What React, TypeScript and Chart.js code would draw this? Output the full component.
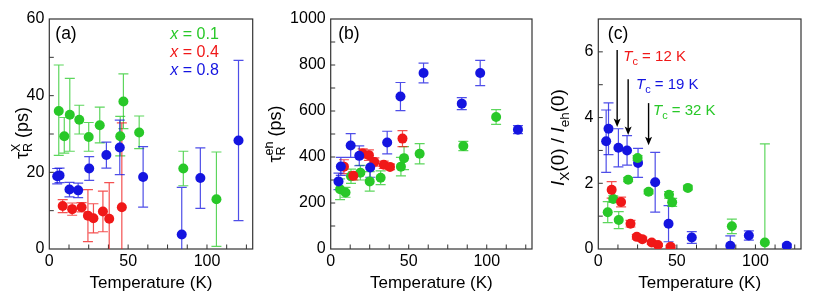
import React, { useEffect, useRef } from 'react';
import { Chart, registerables } from 'chart.js';
Chart.register(...registerables);

const FONT = '"Liberation Sans", Arial, Helvetica, sans-serif';
const GREEN = '#28c828';
const RED = '#f01818';
const BLUE = '#1414e0';
const FRAME = '#333333';

// Temperatures (K) for each sample
const tempGreen = [6, 9.5, 13, 19, 25, 32, 45, 47, 57, 85, 106];
const tempRed = [8.5, 14.5, 20.5, 24.5, 28, 34, 38, 46];
const tempBlue = [5, 6.5, 12.8, 18.3, 25.3, 36.2, 44.7, 59.5, 84, 95.8, 120];

// (a) tau_R^X (ps)
const tauXGreen = [36, 29.4, 35, 33.7, 29.2, 32.3, 29.4, 38.5, 30.4, 21, 13];
const tauXGreenLo = [24.4, 25, 25.5, 30, 25.5, 27.7, 24.3, 31.4, 26.2, 16.5, 0.7];
const tauXGreenHi = [48, 34.3, 44.5, 37.5, 33, 37, 34.6, 45.7, 34.7, 25.5, 25.3];
const tauXRed = [11.2, 10.4, 10.9, 8.7, 8.0, 9.8, 7.9, 10.9];
const tauXRedLo = [9.5, 8.8, 9.7, 1.9, 4.2, 4.5, -1.5, -11];
const tauXRedHi = [12.9, 12.0, 12.1, 15.5, 11.8, 15.1, 17.3, 32.9];
const tauXBlue = [19, 19.2, 15.5, 15.3, 21, 24.5, 26.5, 18.8, 3.8, 18.5, 28.3];
const tauXBlueLo = [17, 17.3, 13.6, 13.4, 17.9, 21.1, 19.4, 10.9, -8.4, 10.6, 7.4];
const tauXBlueHi = [21, 21.1, 17.4, 17.2, 24.1, 27.9, 33.6, 26.7, 16.1, 26.4, 49.2];

// (b) tau_R^eh (ps)
const tauEhGreen = [260, 246, 316, 332, 294, 310, 358, 395, 414, 448, 574];
const tauEhGreenLo = [215, 225, 285, 300, 252, 280, 318, 345, 370, 428, 542];
const tauEhGreenHi = [305, 268, 347, 364, 336, 340, 398, 445, 458, 468, 606];
const tauEhRed = [358, 318, 415, 408, 378, 366, 357, 480];
const tauEhRedLo = [328, 300, 395, 385, 360, 350, 345, 445];
const tauEhRedHi = [388, 336, 435, 431, 396, 382, 369, 515];
const tauEhBlue = [294, 359, 450, 405, 354, 463, 663, 765, 632, 765, 519];
const tauEhBlueLo = [258, 320, 398, 362, 312, 414, 602, 722, 606, 710, 502];
const tauEhBlueHi = [330, 398, 502, 448, 396, 512, 724, 808, 658, 820, 536];

// (c) I_X(0) / I_eh(0)
const ratioGreen = [1.12, 1.52, 0.88, 2.11, 2.77, 1.74, 1.65, 1.42, 1.86, 0.69, 0.2];
const ratioGreenLo = [0.8, 1.42, 0.62, 2.05, 2.7, 1.68, 1.55, 1.3, 1.8, 0.47, -2.8];
const ratioGreenHi = [1.44, 1.62, 1.14, 2.17, 2.84, 1.8, 1.75, 1.54, 1.92, 0.91, 3.2];
const ratioRed = [1.8, 1.43, 0.77, 0.37, 0.3, 0.2, 0.12, 0.07];
const ratioRedLo = [1.55, 1.28, 0.67, 0.3, 0.24, 0.15, 0.08, 0.03];
const ratioRedHi = [2.05, 1.58, 0.87, 0.44, 0.36, 0.25, 0.16, 0.11];
const ratioBlue = [3.28, 3.66, 3.08, 3.0, 2.62, 2.03, 0.77, 0.35, 0.1, 0.41, 0.1];
const ratioBlueLo = [2.33, 2.87, 2.5, 2.55, 2.18, 1.12, 0.22, 0.17, -0.2, 0.27, 0.05];
const ratioBlueHi = [4.23, 4.45, 3.66, 3.45, 3.06, 2.94, 1.32, 0.53, 0.4, 0.55, 0.15];

// Axis ticks
const xLabelTicks = [0, 50, 100];
const xMinorTicks = [12.5, 25, 37.5, 62.5, 75, 87.5, 112.5, 125];
const yTicksA = [0, 20, 40, 60];
const yMinorA = [10, 30, 50];
const yTicksB = [0, 200, 400, 600, 800, 1000];
const yMinorB = [100, 300, 500, 700, 900];
const yTicksC = [0, 2, 4, 6];
const yMinorC = [1, 3, 5];

// Critical temperatures (panel c)
const tcValues = [12, 19, 32];
const tcLabels = ['12 K', '19 K', '32 K'];
const tcArrowFrom = [6.06, 5.17, 4.44];
const tcArrowTo = [3.71, 3.47, 3.16];
const tcLabelX = [15.9, 24, 34.8];
const tcLabelY = [5.9, 5.04, 4.23];

const legendItems = ['0.1', '0.4', '0.8'];

type Seg = { t: string; size?: number; italic?: boolean; dy?: number; stack?: boolean };

function segFont(s: Seg, base: number) {
  return `${s.italic ? 'italic ' : ''}${s.size ?? base}px ${FONT}`;
}

function drawRich(
  ctx: CanvasRenderingContext2D,
  segs: Seg[],
  x: number,
  y: number,
  color: string,
  center: boolean,
  base = 16
) {
  const w = segs.map((s) => {
    ctx.font = segFont(s, base);
    return ctx.measureText(s.t).width;
  });
  let total = 0;
  for (let i = 0; i < segs.length; i++) {
    if (segs[i].stack && i + 1 < segs.length) {
      total += Math.max(w[i], w[i + 1]);
      i++;
    } else total += w[i];
  }
  let cx = center ? x - total / 2 : x;
  ctx.fillStyle = color;
  ctx.textBaseline = 'alphabetic';
  ctx.textAlign = 'left';
  for (let i = 0; i < segs.length; i++) {
    const s = segs[i];
    ctx.font = segFont(s, base);
    ctx.fillText(s.t, cx, y + (s.dy ?? 0));
    if (s.stack && i + 1 < segs.length) {
      const n = segs[i + 1];
      ctx.font = segFont(n, base);
      ctx.fillText(n.t, cx, y + (n.dy ?? 0));
      cx += Math.max(w[i], w[i + 1]);
      i++;
    } else cx += w[i];
  }
}

type PanelSpec = {
  key: string;
  left: number;
  width: number;
  yWidth: number;
  padRight: number;
  yMax: number;
  yTicks: number[];
  yMinor: number[];
  title: Seg[];
  titleSize: number;
  titleOffset: number;
  titleDy: number;
  tag: string;
  tagOffset: number;
  datasets: any[];
  legend?: boolean;
  tc?: boolean;
};

function ds(xs: number[], ys: number[], lo: number[], hi: number[], color: string) {
  return {
    data: xs.map((x, i) => ({ x, y: ys[i] })),
    backgroundColor: color,
    borderColor: color,
    pointRadius: 5,
    pointHoverRadius: 5,
    pointBorderWidth: 0,
    showLine: false,
    errLo: lo,
    errHi: hi,
    errColor: color + 'c0',
  };
}

function makeDecor(spec: PanelSpec) {
  return {
    id: 'decor_' + spec.key,
    beforeDatasetsDraw(chart: any) {
      const { ctx, chartArea: a, scales } = chart;
      const xs = scales.x;
      const ys = scales.y;
      // frame
      ctx.save();
      ctx.strokeStyle = FRAME;
      ctx.lineWidth = 1.2;
      ctx.strokeRect(a.left, a.top, a.right - a.left, a.bottom - a.top);
      ctx.lineWidth = 1;
      ctx.beginPath();
      for (const v of [...xLabelTicks, ...xMinorTicks]) {
        const px = xs.getPixelForValue(v);
        if (px <= a.left + 1) continue;
        ctx.moveTo(px, a.bottom);
        ctx.lineTo(px, a.bottom - 4.5);
      }
      for (const v of [...spec.yTicks, ...spec.yMinor]) {
        const py = ys.getPixelForValue(v);
        if (py >= a.bottom - 1 || py <= a.top + 1) continue;
        ctx.moveTo(a.left, py);
        ctx.lineTo(a.left + 4.5, py);
      }
      ctx.stroke();
      ctx.restore();
      // error bars
      ctx.save();
      ctx.beginPath();
      ctx.rect(a.left, a.top, a.right - a.left, a.bottom - a.top);
      ctx.clip();
      const list = [...chart.data.datasets].reverse();
      list.forEach((d: any) => {
        ctx.strokeStyle = d.errColor;
        ctx.lineWidth = 1.2;
        d.data.forEach((p: any, i: number) => {
          const px = xs.getPixelForValue(p.x);
          const lo = ys.getPixelForValue(d.errLo[i]);
          const hi = ys.getPixelForValue(d.errHi[i]);
          ctx.beginPath();
          ctx.moveTo(px, lo);
          ctx.lineTo(px, hi);
          ctx.moveTo(px - 5, lo);
          ctx.lineTo(px + 5, lo);
          ctx.moveTo(px - 5, hi);
          ctx.lineTo(px + 5, hi);
          ctx.stroke();
        });
      });
      ctx.restore();
    },
    afterDatasetsDraw(chart: any) {
      const { ctx, chartArea: a, scales } = chart;
      const xs = scales.x;
      const ys = scales.y;
      ctx.save();
      // y title
      ctx.save();
      ctx.translate(a.left - spec.titleOffset, (a.top + a.bottom) / 2 + spec.titleDy);
      ctx.rotate(-Math.PI / 2);
      drawRich(ctx, spec.title, 0, 0, '#000', true, spec.titleSize);
      ctx.restore();
      // panel tag
      drawRich(ctx, [{ t: spec.tag }], a.left + spec.tagOffset, a.top + 20, '#000', false, 17.5);
      if (spec.legend) {
        const cols = [GREEN, RED, BLUE];
        legendItems.forEach((v, i) => {
          drawRich(
            ctx,
            [{ t: 'x', italic: true }, { t: ' = ' + v }],
            a.left + 121,
            a.top + 19.5 + i * 18,
            cols[i],
            false,
            16
          );
        });
      }
      if (spec.tc) {
        const cols = [RED, BLUE, GREEN];
        tcValues.forEach((tc, i) => {
          const px = xs.getPixelForValue(tc);
          const y1 = ys.getPixelForValue(tcArrowFrom[i]);
          const y2 = ys.getPixelForValue(tcArrowTo[i]);
          ctx.strokeStyle = '#000';
          ctx.fillStyle = '#000';
          ctx.lineWidth = 1.4;
          ctx.beginPath();
          ctx.moveTo(px, y1);
          ctx.lineTo(px, y2 - 6);
          ctx.stroke();
          ctx.beginPath();
          ctx.moveTo(px, y2);
          ctx.lineTo(px - 3.5, y2 - 8.5);
          ctx.lineTo(px, y2 - 6.5);
          ctx.lineTo(px + 3.5, y2 - 8.5);
          ctx.closePath();
          ctx.fill();
          const lx = xs.getPixelForValue(tcLabelX[i]);
          const ly = ys.getPixelForValue(tcLabelY[i]) + 5.4;
          drawRich(
            ctx,
            [{ t: 'T', italic: true }, { t: 'c', size: 11, dy: 4 }, { t: ' = ' + tcLabels[i] }],
            lx,
            ly,
            cols[i],
            false,
            15
          );
        });
      }
      ctx.restore();
    },
  };
}

const panels: PanelSpec[] = [
  {
    key: 'a',
    left: 0,
    width: 265,
    yWidth: 49.3,
    padRight: 12.3,
    yMax: 60,
    yTicks: yTicksA,
    yMinor: yMinorA,
    title: [{ t: 'τ' }, { t: 'R', size: 12.5, dy: 4.5, stack: true }, { t: 'X', size: 12.5, dy: -8 }, { t: ' (ps)' }],
    titleSize: 18,
    titleOffset: 21.6,
    titleDy: -1,
    tag: '(a)',
    tagOffset: 6,
    legend: true,
    datasets: [
      ds(tempBlue, tauXBlue, tauXBlueLo, tauXBlueHi, BLUE),
      ds(tempRed, tauXRed, tauXRedLo, tauXRedHi, RED),
      ds(tempGreen, tauXGreen, tauXGreenLo, tauXGreenHi, GREEN),
    ],
  },
  {
    key: 'b',
    left: 265,
    width: 280,
    yWidth: 65.7,
    padRight: 13,
    yMax: 1000,
    yTicks: yTicksB,
    yMinor: yMinorB,
    title: [{ t: 'τ' }, { t: 'R', size: 12.5, dy: 4.5, stack: true }, { t: 'eh', size: 12.5, dy: -8 }, { t: ' (ps)' }],
    titleSize: 18,
    titleOffset: 50,
    titleDy: 0,
    tag: '(b)',
    tagOffset: 7.5,
    datasets: [
      ds(tempBlue, tauEhBlue, tauEhBlueLo, tauEhBlueHi, BLUE),
      ds(tempRed, tauEhRed, tauEhRedLo, tauEhRedHi, RED),
      ds(tempGreen, tauEhGreen, tauEhGreenLo, tauEhGreenHi, GREEN),
    ],
  },
  {
    key: 'c',
    left: 545,
    width: 269,
    yWidth: 53.3,
    padRight: 13,
    yMax: 7,
    yTicks: yTicksC,
    yMinor: yMinorC,
    title: [
      { t: 'I', italic: true },
      { t: 'X', size: 13.5, dy: 4.5 },
      { t: '(0) / ' },
      { t: 'I', italic: true },
      { t: 'eh', size: 13.5, dy: 4.5 },
      { t: '(0)' },
    ],
    titleSize: 19,
    titleOffset: 34,
    titleDy: 3.5,
    tag: '(c)',
    tagOffset: 9.5,
    tc: true,
    datasets: [
      ds(tempRed, ratioRed, ratioRedLo, ratioRedHi, RED),
      ds(tempGreen, ratioGreen, ratioGreenLo, ratioGreenHi, GREEN),
      ds(tempBlue, ratioBlue, ratioBlueLo, ratioBlueHi, BLUE),
    ],
  },
];

function Panel({ spec }: { spec: PanelSpec }) {
  const ref = useRef<HTMLCanvasElement>(null);
  useEffect(() => {
    const canvas = ref.current;
    if (!canvas) return;
    const chart = new Chart(canvas, {
      type: 'scatter',
      data: { datasets: spec.datasets },
      options: {
        animation: false,
        responsive: false,
        maintainAspectRatio: false,
        devicePixelRatio: 1,
        events: [],
        layout: { padding: { left: 0, right: spec.padRight, top: 19, bottom: 0 } },
        plugins: { legend: { display: false }, tooltip: { enabled: false }, title: { display: false } },
        scales: {
          x: {
            type: 'linear',
            min: 0,
            max: 129,
            afterBuildTicks: (s: any) => {
              s.ticks = xLabelTicks.map((v) => ({ value: v }));
            },
            afterFit: (s: any) => {
              s.height = 56;
            },
            grid: { display: false, drawTicks: false },
            border: { display: false },
            ticks: {
              padding: 3,
              color: '#000',
              maxRotation: 0,
              autoSkip: false,
              font: { family: FONT, size: 16 },
              callback: (v: any) => String(v),
            },
            title: {
              display: true,
              text: 'Temperature (K)',
              color: '#000',
              font: { family: FONT, size: 17 },
              padding: { top: 0, bottom: 11 },
            },
          },
          y: {
            type: 'linear',
            min: 0,
            max: spec.yMax,
            afterBuildTicks: (s: any) => {
              s.ticks = spec.yTicks.map((v) => ({ value: v }));
            },
            afterFit: (s: any) => {
              s.width = spec.yWidth;
            },
            grid: { display: false, drawTicks: false },
            border: { display: false },
            ticks: {
              padding: 5,
              color: '#000',
              autoSkip: false,
              font: { family: FONT, size: 16 },
              callback: (v: any) => String(v),
            },
          },
        },
      } as any,
      plugins: [makeDecor(spec)],
    });
    return () => chart.destroy();
  }, [spec]);
  return (
    <canvas
      ref={ref}
      width={spec.width}
      height={305}
      style={{ position: 'absolute', left: spec.left, top: 0, width: spec.width, height: 305 }}
    />
  );
}

export default function App() {
  return (
    <div
      style={{ position: 'fixed', left: 0, top: 0, width: 814, height: 305, background: '#fff', overflow: 'hidden' }}
    >
      {panels.map((p) => (
        <Panel key={p.key} spec={p} />
      ))}
    </div>
  );
}
